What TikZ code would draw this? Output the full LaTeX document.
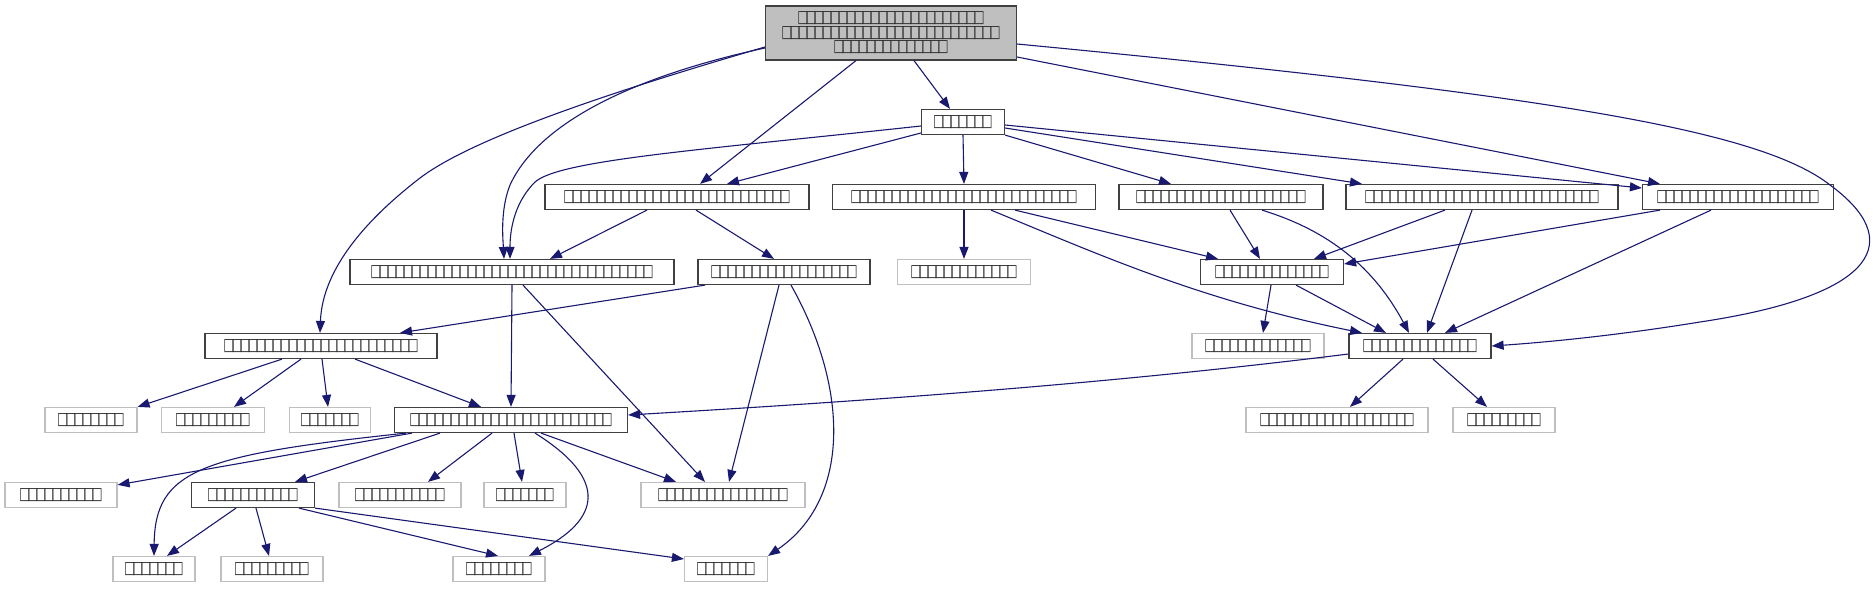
\documentclass[tikz,border=0pt]{standalone}
\usepackage{fontspec}
\newfontfamily\tofu[FakeStretch=0.72,LetterSpace=-21]{DejaVu Sans}
\usetikzlibrary{arrows.meta}
\definecolor{edgec}{HTML}{191970}
\definecolor{nodeg}{HTML}{BFBFBF}
\definecolor{txt}{HTML}{303030}
\tikzset{
  base/.style={draw, line width=1.2pt, fill=white, minimum height=25pt, inner sep=0pt,
    font=\tofu\fontsize{17}{14.5}\selectfont, text=txt},
  blk/.style={base, draw=black!75},
  gry/.style={base, draw=nodeg},
  rootbox/.style={base, draw=black!75, fill=nodeg, align=center, minimum height=54pt},
  edge/.style={draw=edgec, line width=1.1pt, -{Triangle[length=12pt,width=9pt]}}
}
\begin{document}
\begin{tikzpicture}[x=1pt,y=-1pt]
\useasboundingbox (0,0) rectangle (1873,589);
% nodes
\node[rootbox, minimum width=251pt] (A) at (891,33) {□□□□□□□□□□□□□□□□□□□□□□□\\□□□□□□□□□□□□□□□□□□□□□□□□□□□\\□□□□□□□□□□□□□□};
\node[blk, minimum width=83pt] (B) at (963,122) {□□□□□□□};
\node[blk, minimum width=264pt] (C) at (677,197) {□□□□□□□□□□□□□□□□□□□□□□□□□□□□};
\node[blk, minimum width=263pt] (D) at (964,197) {□□□□□□□□□□□□□□□□□□□□□□□□□□□□};
\node[blk, minimum width=204pt] (E) at (1221,197) {□□□□□□□□□□□□□□□□□□□□□};
\node[blk, minimum width=272pt] (F) at (1482,197) {□□□□□□□□□□□□□□□□□□□□□□□□□□□□□};
\node[blk, minimum width=191pt] (G) at (1738,197) {□□□□□□□□□□□□□□□□□□□□};
\node[blk, minimum width=324pt] (H) at (512,272) {□□□□□□□□□□□□□□□□□□□□□□□□□□□□□□□□□□□};
\node[blk, minimum width=172pt] (I) at (784,272) {□□□□□□□□□□□□□□□□□□};
\node[gry, minimum width=133pt] (J) at (964,272) {□□□□□□□□□□□□□};
\node[blk, minimum width=143pt] (K) at (1272,272) {□□□□□□□□□□□□□□};
\node[blk, minimum width=232pt] (L) at (321,346) {□□□□□□□□□□□□□□□□□□□□□□□□};
\node[gry, minimum width=132pt] (M) at (1258,346) {□□□□□□□□□□□□□};
\node[blk, minimum width=142pt] (N) at (1420,346) {□□□□□□□□□□□□□□};
\node[gry, minimum width=92pt] (O) at (91,420) {□□□□□□□□};
\node[gry, minimum width=103pt] (P) at (213,420) {□□□□□□□□□};
\node[gry, minimum width=81pt] (Q) at (330,420) {□□□□□□□};
\node[blk, minimum width=233pt] (R) at (511,420) {□□□□□□□□□□□□□□□□□□□□□□□□□};
\node[gry, minimum width=182pt] (S) at (1337,420) {□□□□□□□□□□□□□□□□□□□};
\node[gry, minimum width=102pt] (T) at (1504,420) {□□□□□□□□□};
\node[gry, minimum width=112pt] (U) at (61,495) {□□□□□□□□□□};
\node[blk, minimum width=123pt] (V) at (253,495) {□□□□□□□□□□□};
\node[gry, minimum width=122pt] (W) at (400,495) {□□□□□□□□□□□};
\node[gry, minimum width=82pt] (X) at (525,495) {□□□□□□□};
\node[gry, minimum width=164pt] (Y) at (723,495) {□□□□□□□□□□□□□□□□};
\node[gry, minimum width=82pt] (Z) at (154,569) {□□□□□□□};
\node[gry, minimum width=102pt] (AA) at (272,569) {□□□□□□□□□};
\node[gry, minimum width=92pt] (AB) at (499,569) {□□□□□□□□};
\node[gry, minimum width=83pt] (AC) at (726,569) {□□□□□□□};
% edges
\path[edge] ([xshift=23pt]A.south) -- ([xshift=-13pt]B.north);
\path[edge] ([xshift=-35pt]A.south) -- ([xshift=23pt]C.north);
\path[edge] ([yshift=-15pt]A.west) .. controls (640,75) and (540,120) .. (510,185) .. controls (500,210) and (503,240) .. ([xshift=-8pt]H.north);
\path[edge] ([yshift=-14pt]A.west) .. controls (600,95) and (470,140) .. (420,178) .. controls (350,232) and (322,280) .. ([xshift=-1pt]L.north);
\path[edge] ([yshift=-24pt]A.east) -- ([xshift=-78pt]G.north);
\path[edge] ([yshift=-11pt]A.east) .. controls (1550,95) and (1760,130) .. (1830,185) .. controls (1905,240) and (1880,295) .. (1700,322) .. controls (1620,335) and (1550,342) .. (N.east);
\path[edge] ([yshift=-11pt]B.west) -- ([xshift=50pt]C.north);
\path[edge] ([yshift=-4pt]B.west) .. controls (700,150) and (560,160) .. (535,182) .. controls (512,205) and (510,235) .. ([xshift=-2pt]H.north);
\path[edge] (B.south) -- (D.north);
\path[edge] (B.south east) -- ([xshift=-50pt]E.north);
\path[edge] ([yshift=-6pt]B.east) -- ([xshift=-120pt]F.north);
\path[edge] ([yshift=-3pt]B.east) -- ([yshift=9pt]G.west);
\path[edge] ([xshift=-30pt]C.south) -- ([xshift=38pt]H.north);
\path[edge] ([xshift=19pt]C.south) -- ([xshift=-10pt]I.north);
\path[edge] (D.south) -- (J.north);
\path[edge] ([xshift=51pt]D.south) -- ([xshift=-54pt]K.north);
\path[edge] ([xshift=27pt]D.south) .. controls (1100,255) and (1200,300) .. ([xshift=-58pt]N.north);
\path[edge] ([xshift=9pt]E.south) -- ([xshift=-12pt]K.north);
\path[edge] ([xshift=41pt]E.south) .. controls (1320,228) and (1370,260) .. ([xshift=-11pt]N.north);
\path[edge] ([xshift=-37pt]F.south) -- ([xshift=42pt]K.north);
\path[edge] ([xshift=-10pt]F.south) -- ([xshift=7pt]N.north);
\path[edge] ([xshift=-78pt]G.south) -- ([yshift=8pt]K.east);
\path[edge] ([xshift=-27pt]G.south) -- ([xshift=25pt]N.north);
\path[edge] (H.south) -- (R.north);
\path[edge] ([xshift=11pt]H.south) -- ([xshift=-18pt]Y.north);
\path[edge] ([xshift=-79pt]I.south) -- ([xshift=79pt]L.north);
\path[edge] ([xshift=-5pt]I.south) -- ([xshift=6pt]Y.north);
\path[edge] ([xshift=7pt]I.south) .. controls (850,390) and (850,500) .. (AC.north east);
\path[edge] ([xshift=-1pt]K.south) -- ([xshift=5pt]M.north);
\path[edge] ([xshift=24pt]K.south) -- ([xshift=-34pt]N.north);
\path[edge] ([xshift=-39pt]L.south) -- (O.north east);
\path[edge] ([xshift=-20pt]L.south) -- ([xshift=21pt]P.north);
\path[edge] ([xshift=1pt]L.south) -- ([xshift=-2pt]Q.north);
\path[edge] ([xshift=34pt]L.south) -- ([xshift=-30pt]R.north);
\path[edge] ([yshift=-8pt]N.west) .. controls (1100,385) and (850,402) .. ([yshift=5pt]R.east);
\path[edge] ([xshift=-17pt]N.south) -- ([xshift=13pt]S.north);
\path[edge] ([xshift=13pt]N.south) -- ([xshift=-17pt]T.north);
\path[edge] ([xshift=-99pt]R.south) -- ([yshift=-3pt]U.north east);
\path[edge] ([xshift=-71pt]R.south) -- ([xshift=42pt]V.north);
\path[edge] ([xshift=-19pt]R.south) -- ([xshift=28pt]W.north);
\path[edge] ([xshift=3pt]R.south) -- ([xshift=-3pt]X.north);
\path[edge] ([xshift=30pt]R.south) -- ([xshift=-47pt]Y.north);
\path[edge] ([xshift=-105pt]R.south) .. controls (200,455) and (155,470) .. (Z.north);
\path[edge] ([xshift=24pt]R.south) .. controls (610,480) and (600,520) .. ([xshift=30pt]AB.north);
\path[edge] ([xshift=-17pt]V.south) -- ([xshift=13pt]Z.north);
\path[edge] ([xshift=3pt]V.south) -- ([xshift=-3pt]AA.north);
\path[edge] ([xshift=46pt]V.south) -- ([xshift=-1pt]AB.north);
\path[edge] (V.south east) -- ([yshift=10pt]AC.west);
\end{tikzpicture}
\end{document}
